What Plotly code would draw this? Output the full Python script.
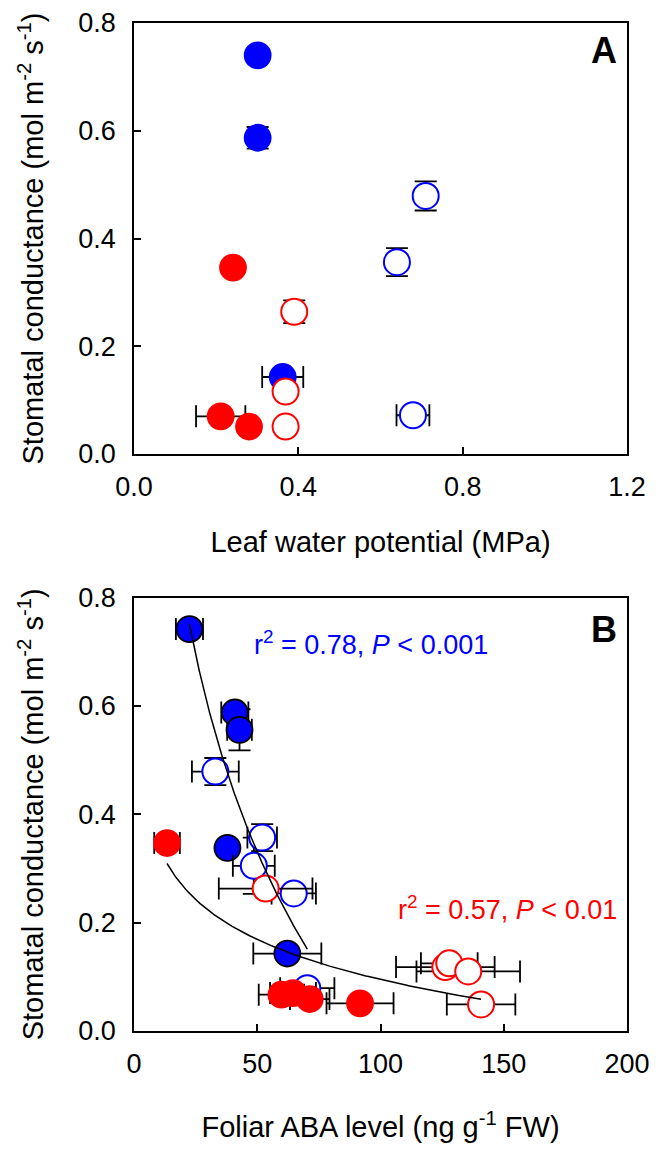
import numpy as np
import plotly.graph_objects as go

# ---------------- Panel A: leaf water potential vs stomatal conductance ----------------
a_blue_fill_x = [0.301, 0.301, 0.362]
a_blue_fill_y = [0.740, 0.587, 0.143]
a_blue_fill_xerr = [0.0, 0.0, 0.050]
a_blue_fill_yerr = [0.0, 0.020, 0.0]

a_blue_open_x = [0.710, 0.640, 0.679]
a_blue_open_y = [0.479, 0.356, 0.072]
a_blue_open_xerr = [0.0, 0.0, 0.040]
a_blue_open_yerr = [0.027, 0.026, 0.0]

a_red_fill_x = [0.241, 0.211, 0.280]
a_red_fill_y = [0.346, 0.070, 0.051]
a_red_fill_xerr = [0.0, 0.060, 0.0]
a_red_fill_yerr = [0.0, 0.0, 0.0]

a_red_open_x = [0.390, 0.369, 0.369]
a_red_open_y = [0.264, 0.116, 0.051]
a_red_open_xerr = [0.0, 0.0, 0.0]
a_red_open_yerr = [0.021, 0.0, 0.0]

# ---------------- Panel B: foliar ABA vs stomatal conductance ----------------
b_blue_fill_x = [22.5, 40.9, 42.8, 37.9, 62.2]
b_blue_fill_y = [0.742, 0.588, 0.556, 0.338, 0.143]
b_blue_fill_xerr = [5.5, 5.5, 5.0, 0.0, 13.8]
b_blue_fill_yerr = [0.0, 0.0, 0.038, 0.0, 0.0]

b_blue_open_x = [33.0, 52.0, 48.6, 64.8, 70.3]
b_blue_open_y = [0.479, 0.357, 0.305, 0.254, 0.079]
b_blue_open_xerr = [9.5, 6.0, 8.5, 9.0, 11.0]
b_blue_open_yerr = [0.025, 0.025, 0.052, 0.0, 0.0]

b_red_fill_x = [13.4, 59.8, 64.5, 71.3, 91.7]
b_red_fill_y = [0.347, 0.067, 0.070, 0.059, 0.051]
b_red_fill_xerr = [5.2, 9.2, 9.3, 8.0, 13.6]
b_red_fill_yerr = [0.0, 0.0, 0.0, 0.0, 0.0]

b_red_open_x = [53.4, 126.3, 127.9, 135.6, 140.8]
b_red_open_y = [0.263, 0.118, 0.125, 0.110, 0.049]
b_red_open_xerr = [19.0, 20.0, 11.5, 21.0, 13.9]
b_red_open_yerr = [0.0, 0.0, 0.0, 0.0, 0.0]

blue_stat_text = "r<sup>2</sup> = 0.78, <i>P</i> &lt; 0.001"
red_stat_text = "r<sup>2</sup> = 0.57, <i>P</i> &lt; 0.01"

x_a_ticks = [0.0, 0.4, 0.8, 1.2]
x_b_ticks = [0, 50, 100, 150, 200]
y_ticks = [0.0, 0.2, 0.4, 0.6, 0.8]

BLUE = "#0000FF"
RED = "#FF0000"
FONT = "Liberation Sans, Arial, sans-serif"
MS = 26


def err(vals):
    return dict(type="data", array=vals, visible=True, color="black",
                thickness=1.8, width=11)


fig = go.Figure()


def add_pts(x, y, xe, ye, color, filled, outline, xa, ya):
    fig.add_trace(go.Scatter(
        x=x, y=y, mode="markers", xaxis=xa, yaxis=ya,
        error_x=err(xe), error_y=err(ye),
        marker=dict(size=MS, symbol="circle",
                    color=color if filled else "white",
                    line=dict(color=(outline if filled else color), width=1.8 if filled else 2)),
        hoverinfo="skip"))


# Panel A
add_pts(a_blue_fill_x, a_blue_fill_y, a_blue_fill_xerr, a_blue_fill_yerr, BLUE, True, BLUE, "x", "y")
add_pts(a_blue_open_x, a_blue_open_y, a_blue_open_xerr, a_blue_open_yerr, BLUE, False, BLUE, "x", "y")
add_pts(a_red_fill_x, a_red_fill_y, a_red_fill_xerr, a_red_fill_yerr, RED, True, RED, "x", "y")
add_pts(a_red_open_x, a_red_open_y, a_red_open_xerr, a_red_open_yerr, RED, False, RED, "x", "y")

# Panel B
add_pts(b_blue_fill_x, b_blue_fill_y, b_blue_fill_xerr, b_blue_fill_yerr, BLUE, True, "black", "x2", "y2")
add_pts(b_blue_open_x, b_blue_open_y, b_blue_open_xerr, b_blue_open_yerr, BLUE, False, BLUE, "x2", "y2")
add_pts(b_red_fill_x, b_red_fill_y, b_red_fill_xerr, b_red_fill_yerr, RED, True, RED, "x2", "y2")
add_pts(b_red_open_x, b_red_open_y, b_red_open_xerr, b_red_open_yerr, RED, False, RED, "x2", "y2")


# Logarithmic regression curves (y = a + b ln x) fitted to the panel-B data
def log_fit_curve(xs, ys):
    xs = np.asarray(xs, float)
    ys = np.asarray(ys, float)
    b, a = np.polyfit(np.log(xs), ys, 1)
    xx = np.linspace(xs.min(), xs.max(), 200)
    return xx, a + b * np.log(xx)


blue_x_all = b_blue_fill_x + b_blue_open_x
blue_y_all = b_blue_fill_y + b_blue_open_y
red_x_all = b_red_fill_x + b_red_open_x
red_y_all = b_red_fill_y + b_red_open_y

for xs, ys in [(blue_x_all, blue_y_all), (red_x_all, red_y_all)]:
    cx, cy = log_fit_curve(xs, ys)
    fig.add_trace(go.Scatter(x=cx, y=cy, mode="lines", xaxis="x2", yaxis="y2",
                             line=dict(color="black", width=1.5), hoverinfo="skip"))

axis_common = dict(showline=True, mirror=True, linecolor="black", linewidth=1.5,
                   ticks="inside", ticklen=7, tickwidth=1.5, tickcolor="black",
                   showgrid=False, zeroline=False, automargin=False,
                   ticklabeloverflow="allow",
                   tickfont=dict(family=FONT, size=27, color="black"),
                   title_font=dict(family=FONT, size=29, color="black"))

ytitle = "Stomatal conductance (mol m<sup>-2</sup> s<sup>-1</sup>)"

# page body adds an 8px margin, so the figure is drawn 8px smaller / offset
fig.update_layout(
    width=652, height=1135,
    margin=dict(l=126, r=33, t=15, b=112, autoexpand=False),
    plot_bgcolor="white", paper_bgcolor="white",
    showlegend=False,
    font=dict(family=FONT, size=27, color="black"),
    xaxis=dict(axis_common, domain=[0, 1], anchor="y", range=[0, 1.2],
               tickvals=x_a_ticks, ticktext=[f"{v:.1f}" for v in x_a_ticks],
               title=dict(text="Leaf water potential (MPa)", standoff=31),
               ticklabelstandoff=8),
    yaxis=dict(axis_common, domain=[0.5724, 1], anchor="x", range=[0, 0.8],
               tickvals=y_ticks, ticktext=[f"{v:.1f}" for v in y_ticks],
               title=dict(text=ytitle, standoff=26),
               ticklabelstandoff=11),
    xaxis2=dict(axis_common, domain=[0, 1], anchor="y2", range=[0, 200],
                tickvals=x_b_ticks, ticktext=[str(v) for v in x_b_ticks],
                title=dict(text="Foliar ABA level (ng g<sup>-1</sup> FW)", standoff=40),
                ticklabelstandoff=8),
    yaxis2=dict(axis_common, domain=[0, 0.4299], anchor="x2", range=[0, 0.8],
                tickvals=y_ticks, ticktext=[f"{v:.1f}" for v in y_ticks],
                title=dict(text=ytitle, standoff=26),
                ticklabelstandoff=11),
)

fig.add_annotation(text="<b>A</b>", xref="paper", yref="paper", x=0.953, y=0.9724,
                   xanchor="center", yanchor="middle", showarrow=False,
                   font=dict(family=FONT, size=36, color="black"))
fig.add_annotation(text="<b>B</b>", xref="paper", yref="paper", x=0.953, y=0.3982,
                   xanchor="center", yanchor="middle", showarrow=False,
                   font=dict(family=FONT, size=36, color="black"))
fig.add_annotation(text=blue_stat_text, xref="x2", yref="y2", x=48.0, y=0.717,
                   xanchor="left", yanchor="middle", showarrow=False,
                   font=dict(family=FONT, size=27, color=BLUE))
fig.add_annotation(text=red_stat_text, xref="x2", yref="y2", x=106.2, y=0.227,
                   xanchor="left", yanchor="middle", showarrow=False,
                   font=dict(family=FONT, size=27, color=RED))

fig.write_html("out.html")
